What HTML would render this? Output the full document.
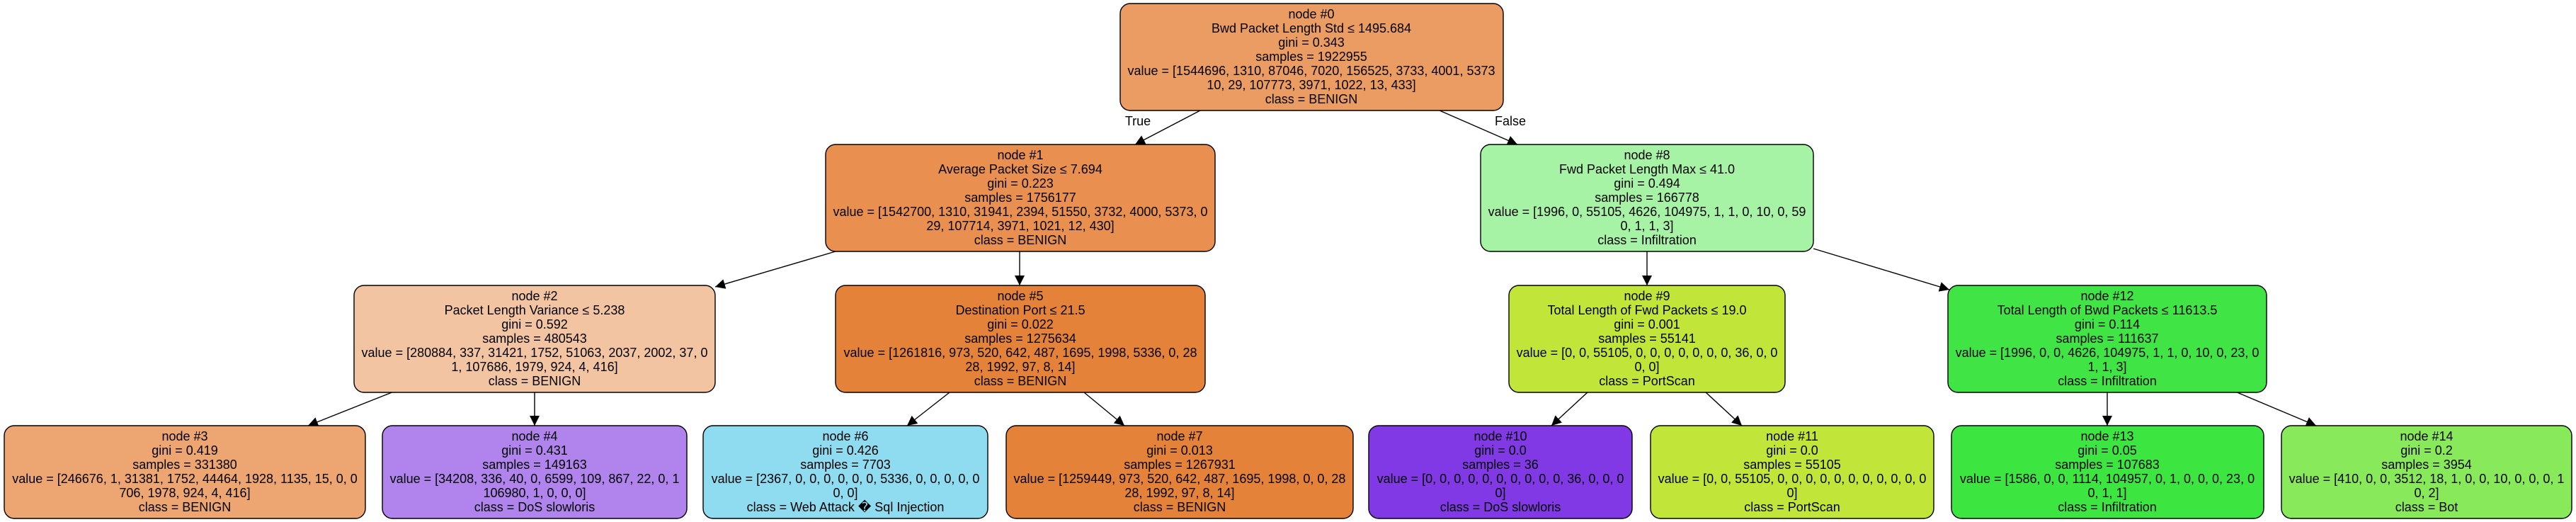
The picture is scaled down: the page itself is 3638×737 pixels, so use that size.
<!DOCTYPE html>
<html><head><meta charset="utf-8"><style>
html,body{margin:0;padding:0;background:#fff;}
svg{display:block;}
text{font-family:"Liberation Sans",Helvetica,Arial,sans-serif;font-size:18px;fill:#000;text-anchor:middle;}
rect{stroke:#000;stroke-width:1.4;}
line{stroke:#000;stroke-width:1.4;}
</style></head><body>
<svg width="3638" height="737" viewBox="0 0 3638 737" xmlns="http://www.w3.org/2000/svg">
<defs><marker id="a" viewBox="0 0 10 10" refX="10" refY="5" markerWidth="14" markerHeight="14" markerUnits="userSpaceOnUse" orient="auto"><path d="M0,0 L10,5 L0,10 z" fill="#000"/></marker></defs>

<!-- edges -->
<line x1="1695" y1="156" x2="1603" y2="204" marker-end="url(#a)"/>
<line x1="2033" y1="156" x2="2143" y2="204" marker-end="url(#a)"/>
<text x="1607" y="177">True</text>
<text x="2133" y="177">False</text>
<line x1="1180" y1="355" x2="1010" y2="405" marker-end="url(#a)"/>
<line x1="1440" y1="355" x2="1440" y2="403" marker-end="url(#a)"/>
<line x1="556" y1="553" x2="435" y2="601" marker-end="url(#a)"/>
<line x1="755" y1="553" x2="755" y2="601" marker-end="url(#a)"/>
<line x1="1341" y1="554" x2="1281" y2="601" marker-end="url(#a)"/>
<line x1="1531" y1="554" x2="1588" y2="601" marker-end="url(#a)"/>
<line x1="2326" y1="355" x2="2326" y2="403" marker-end="url(#a)"/>
<line x1="2561" y1="351" x2="2753" y2="409" marker-end="url(#a)"/>
<line x1="2243" y1="553" x2="2191" y2="601" marker-end="url(#a)"/>
<line x1="2408" y1="553" x2="2460" y2="601" marker-end="url(#a)"/>
<line x1="2976" y1="553" x2="2976" y2="601" marker-end="url(#a)"/>
<line x1="3157" y1="553" x2="3271" y2="601" marker-end="url(#a)"/>

<!-- node 0 -->
<rect x="1582" y="5" width="541" height="151" rx="14" fill="#eb9c63"/>
<text x="1852" y="26">node #0</text>
<text x="1852" y="46">Bwd Packet Length Std ≤ 1495.684</text>
<text x="1852" y="66">gini = 0.343</text>
<text x="1852" y="86">samples = 1922955</text>
<text x="1852" y="106">value = [1544696, 1310, 87046, 7020, 156525, 3733, 4001, 5373</text>
<text x="1852" y="126">10, 29, 107773, 3971, 1022, 13, 433]</text>
<text x="1852" y="146">class = BENIGN</text>

<!-- node 1 -->
<rect x="1166" y="204" width="550" height="151" rx="14" fill="#e99051"/>
<text x="1441" y="225">node #1</text>
<text x="1441" y="245">Average Packet Size ≤ 7.694</text>
<text x="1441" y="265">gini = 0.223</text>
<text x="1441" y="285">samples = 1756177</text>
<text x="1441" y="305">value = [1542700, 1310, 31941, 2394, 51550, 3732, 4000, 5373, 0</text>
<text x="1441" y="325">29, 107714, 3971, 1021, 12, 430]</text>
<text x="1441" y="345">class = BENIGN</text>

<!-- node 8 -->
<rect x="2091" y="204" width="470" height="151" rx="14" fill="#a7f3a5"/>
<text x="2326" y="225">node #8</text>
<text x="2326" y="245">Fwd Packet Length Max ≤ 41.0</text>
<text x="2326" y="265">gini = 0.494</text>
<text x="2326" y="285">samples = 166778</text>
<text x="2326" y="305">value = [1996, 0, 55105, 4626, 104975, 1, 1, 0, 10, 0, 59</text>
<text x="2326" y="325">0, 1, 1, 3]</text>
<text x="2326" y="345">class = Infiltration</text>

<!-- node 2 -->
<rect x="500" y="403" width="510" height="151" rx="14" fill="#f3c4a2"/>
<text x="755" y="424">node #2</text>
<text x="755" y="444">Packet Length Variance ≤ 5.238</text>
<text x="755" y="464">gini = 0.592</text>
<text x="755" y="484">samples = 480543</text>
<text x="755" y="504">value = [280884, 337, 31421, 1752, 51063, 2037, 2002, 37, 0</text>
<text x="755" y="524">1, 107686, 1979, 924, 4, 416]</text>
<text x="755" y="544">class = BENIGN</text>

<!-- node 5 -->
<rect x="1180" y="403" width="522" height="151" rx="14" fill="#e5823a"/>
<text x="1441" y="424">node #5</text>
<text x="1441" y="444">Destination Port ≤ 21.5</text>
<text x="1441" y="464">gini = 0.022</text>
<text x="1441" y="484">samples = 1275634</text>
<text x="1441" y="504">value = [1261816, 973, 520, 642, 487, 1695, 1998, 5336, 0, 28</text>
<text x="1441" y="524">28, 1992, 97, 8, 14]</text>
<text x="1441" y="544">class = BENIGN</text>

<!-- node 9 -->
<rect x="2131" y="403" width="390" height="151" rx="14" fill="#c1e539"/>
<text x="2326" y="424">node #9</text>
<text x="2326" y="444">Total Length of Fwd Packets ≤ 19.0</text>
<text x="2326" y="464">gini = 0.001</text>
<text x="2326" y="484">samples = 55141</text>
<text x="2326" y="504">value = [0, 0, 55105, 0, 0, 0, 0, 0, 0, 0, 36, 0, 0</text>
<text x="2326" y="524">0, 0]</text>
<text x="2326" y="544">class = PortScan</text>

<!-- node 12 -->
<rect x="2751" y="403" width="450" height="151" rx="14" fill="#40e545"/>
<text x="2976" y="424">node #12</text>
<text x="2976" y="444">Total Length of Bwd Packets ≤ 11613.5</text>
<text x="2976" y="464">gini = 0.114</text>
<text x="2976" y="484">samples = 111637</text>
<text x="2976" y="504">value = [1996, 0, 0, 4626, 104975, 1, 1, 0, 10, 0, 23, 0</text>
<text x="2976" y="524">1, 1, 3]</text>
<text x="2976" y="544">class = Infiltration</text>

<!-- bottom row -->
<rect x="6" y="601" width="510" height="131" rx="14" fill="#eda572"/>
<text x="261" y="622">node #3</text>
<text x="261" y="642">gini = 0.419</text>
<text x="261" y="662">samples = 331380</text>
<text x="261" y="682">value = [246676, 1, 31381, 1752, 44464, 1928, 1135, 15, 0, 0</text>
<text x="261" y="702">706, 1978, 924, 4, 416]</text>
<text x="261" y="722">class = BENIGN</text>

<rect x="540" y="601" width="430" height="131" rx="14" fill="#b083ed"/>
<text x="755" y="622">node #4</text>
<text x="755" y="642">gini = 0.431</text>
<text x="755" y="662">samples = 149163</text>
<text x="755" y="682">value = [34208, 336, 40, 0, 6599, 109, 867, 22, 0, 1</text>
<text x="755" y="702">106980, 1, 0, 0, 0]</text>
<text x="755" y="722">class = DoS slowloris</text>

<rect x="993" y="601" width="402" height="131" rx="14" fill="#8fdcf1"/>
<text x="1194" y="622">node #6</text>
<text x="1194" y="642">gini = 0.426</text>
<text x="1194" y="662">samples = 7703</text>
<text x="1194" y="682">value = [2367, 0, 0, 0, 0, 0, 0, 5336, 0, 0, 0, 0, 0</text>
<text x="1194" y="702">0, 0]</text>
<text x="1194" y="722">class = Web Attack � Sql Injection</text>

<rect x="1421" y="601" width="490" height="131" rx="14" fill="#e5823a"/>
<text x="1666" y="622">node #7</text>
<text x="1666" y="642">gini = 0.013</text>
<text x="1666" y="662">samples = 1267931</text>
<text x="1666" y="682">value = [1259449, 973, 520, 642, 487, 1695, 1998, 0, 0, 28</text>
<text x="1666" y="702">28, 1992, 97, 8, 14]</text>
<text x="1666" y="722">class = BENIGN</text>

<rect x="1933" y="601" width="372" height="131" rx="14" fill="#8139e5"/>
<text x="2119" y="622">node #10</text>
<text x="2119" y="642">gini = 0.0</text>
<text x="2119" y="662">samples = 36</text>
<text x="2119" y="682">value = [0, 0, 0, 0, 0, 0, 0, 0, 0, 0, 36, 0, 0, 0</text>
<text x="2119" y="702">0]</text>
<text x="2119" y="722">class = DoS slowloris</text>

<rect x="2331" y="601" width="400" height="131" rx="14" fill="#c1e539"/>
<text x="2531" y="622">node #11</text>
<text x="2531" y="642">gini = 0.0</text>
<text x="2531" y="662">samples = 55105</text>
<text x="2531" y="682">value = [0, 0, 55105, 0, 0, 0, 0, 0, 0, 0, 0, 0, 0, 0</text>
<text x="2531" y="702">0]</text>
<text x="2531" y="722">class = PortScan</text>

<rect x="2756" y="601" width="441" height="131" rx="14" fill="#3de541"/>
<text x="2976" y="622">node #13</text>
<text x="2976" y="642">gini = 0.05</text>
<text x="2976" y="662">samples = 107683</text>
<text x="2976" y="682">value = [1586, 0, 0, 1114, 104957, 0, 1, 0, 0, 0, 23, 0</text>
<text x="2976" y="702">0, 1, 1]</text>
<text x="2976" y="722">class = Infiltration</text>

<rect x="3222" y="601" width="410" height="131" rx="14" fill="#88e95b"/>
<text x="3427" y="622">node #14</text>
<text x="3427" y="642">gini = 0.2</text>
<text x="3427" y="662">samples = 3954</text>
<text x="3427" y="682">value = [410, 0, 0, 3512, 18, 1, 0, 0, 10, 0, 0, 0, 1</text>
<text x="3427" y="702">0, 2]</text>
<text x="3427" y="722">class = Bot</text>
</svg>
</body></html>
